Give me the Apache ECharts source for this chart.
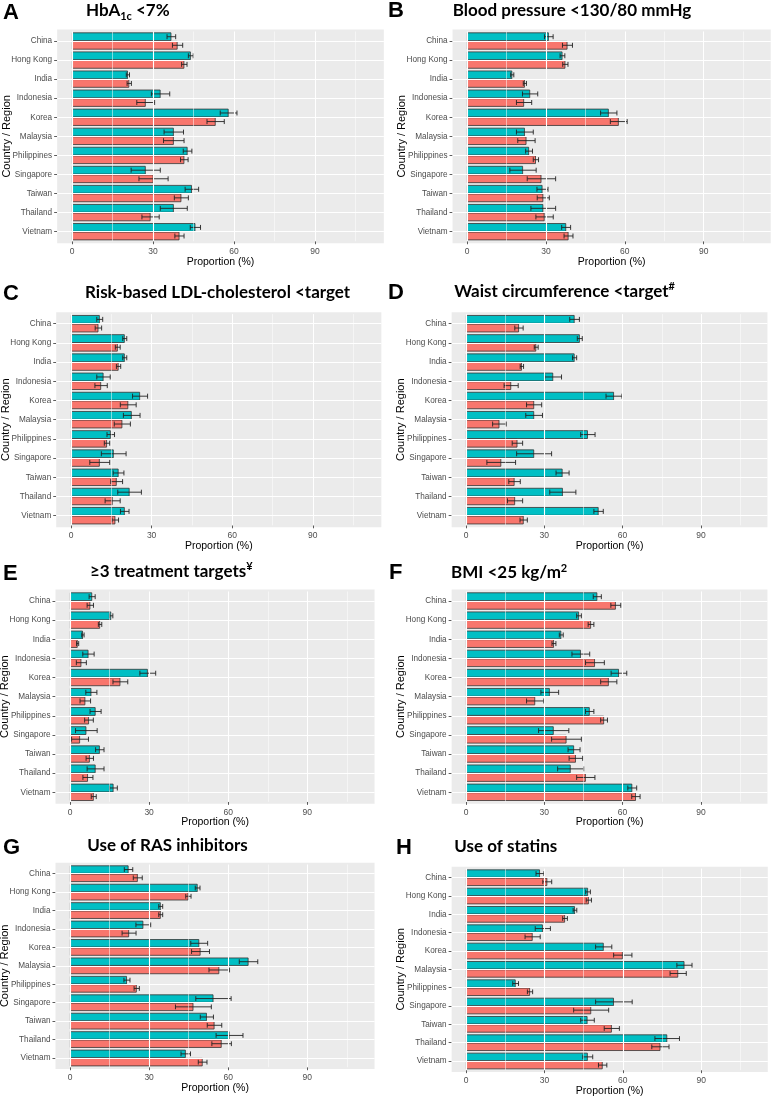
<!DOCTYPE html>
<html><head><meta charset="utf-8">
<script src="https://cdn.jsdelivr.net/npm/echarts@6/dist/echarts.min.js"></script>
<style>html,body{margin:0;padding:0;background:#fff}#c{width:773px;height:1098px}</style>
</head><body><div id="c"></div>
<script>
// ---------- DATA ----------
const countries = ['China','Hong Kong','India','Indonesia','Korea','Malaysia','Philippines','Singapore','Taiwan','Thailand','Vietnam'];
const xTicks = [0, 30, 60, 90];
const xMinorTicks = [15, 45, 75, 105];

// A: HbA1c <7%
const hba1cTeal    = [36.8, 44.0, 20.7, 32.8, 58.0, 37.7, 42.8, 27.3, 44.4, 37.7, 45.7];
const hba1cTealErr = [1.6, 0.9, 0.6, 3.4, 3.1, 3.6, 1.6, 5.4, 2.5, 5.0, 1.9];
const hba1cRed     = [39.1, 41.6, 21.2, 27.3, 53.2, 37.7, 41.6, 30.2, 40.5, 29.1, 39.8];
const hba1cRedErr  = [1.9, 1.0, 0.8, 3.3, 3.2, 3.8, 1.4, 5.4, 2.6, 3.2, 1.7];
// B: Blood pressure <130/80
const bpTeal    = [31.1, 36.3, 17.2, 24.0, 53.9, 22.0, 23.6, 21.3, 28.7, 29.0, 37.7];
const bpTealErr = [1.65, 0.9, 0.6, 2.9, 3.1, 3.2, 1.3, 5.0, 2.1, 4.7, 1.7];
const bpRed     = [38.2, 37.4, 22.0, 21.7, 57.7, 22.6, 26.2, 28.3, 29.0, 29.5, 38.6];
const bpRedErr  = [1.9, 1.0, 0.6, 2.9, 3.2, 3.3, 1.0, 5.4, 2.3, 3.3, 1.7];
// C: LDL-cholesterol
const ldlTeal    = [10.7, 20.0, 20.0, 12.1, 25.7, 22.6, 14.8, 15.9, 17.7, 21.8, 20.0];
const ldlTealErr = [1.1, 0.75, 0.75, 2.5, 2.8, 3.1, 1.4, 4.6, 2.0, 4.4, 1.6];
const ldlRed     = [10.2, 17.4, 17.7, 11.2, 21.3, 19.1, 13.4, 10.7, 17.0, 15.5, 16.5];
const ldlRedErr  = [1.2, 0.9, 0.8, 2.3, 2.95, 3.0, 1.0, 3.7, 2.2, 2.8, 1.2];
// D: Waist circumference
const waistTeal    = [41.6, 43.6, 41.6, 33.4, 56.7, 26.1, 46.7, 26.1, 37.0, 37.1, 50.8];
const waistTealErr = [1.85, 0.95, 0.8, 3.2, 3.05, 3.2, 2.75, 6.7, 2.5, 5.0, 1.8];
const waistRed     = [20.3, 26.9, 21.4, 17.3, 26.1, 12.8, 19.7, 13.5, 18.6, 18.8, 22.1];
const waistRedErr  = [1.6, 0.75, 0.65, 2.7, 2.9, 2.6, 2.0, 5.5, 2.2, 2.9, 1.4];
// E: >=3 treatment targets
const targetsTeal    = [8.4, 15.6, 4.9, 7.0, 29.5, 8.1, 9.7, 6.2, 11.3, 9.7, 16.5];
const targetsTealErr = [1.15, 0.65, 0.45, 2.15, 3.0, 2.1, 2.1, 4.1, 1.6, 3.2, 1.45];
const targetsRed     = [7.7, 11.4, 2.9, 4.3, 19.1, 5.8, 7.2, 3.8, 7.5, 6.8, 9.0];
const targetsRedErr  = [1.2, 0.65, 0.4, 1.9, 2.8, 2.0, 1.65, 3.2, 1.4, 1.9, 0.95];
// F: BMI <25
const bmiTeal    = [50.3, 43.3, 36.5, 44.0, 58.6, 32.1, 47.4, 33.6, 41.4, 40.1, 63.7];
const bmiTealErr = [1.55, 0.9, 0.75, 3.4, 3.0, 3.4, 1.6, 5.8, 2.3, 5.0, 1.7];
const bmiRed     = [57.4, 47.9, 33.7, 49.4, 54.7, 26.5, 52.9, 38.5, 42.1, 45.9, 65.1];
const bmiRedErr  = [1.9, 1.1, 0.75, 3.6, 3.1, 3.3, 1.3, 5.7, 2.6, 3.5, 1.6];
// G: RAS inhibitors
const rasTeal    = [22.2, 48.4, 34.4, 27.8, 49.0, 67.7, 21.6, 54.4, 51.9, 60.5, 43.9];
const rasTealErr = [1.6, 0.9, 0.75, 2.8, 3.2, 3.5, 1.15, 6.7, 2.5, 5.1, 1.8];
const rasRed     = [25.7, 44.9, 34.4, 22.4, 49.5, 56.6, 25.3, 46.8, 54.8, 57.5, 50.3];
const rasRedErr  = [1.7, 1.0, 0.75, 2.65, 3.4, 3.9, 1.0, 6.8, 2.75, 3.7, 1.65];
// H: statins
const statinTeal    = [28.3, 46.7, 41.7, 29.4, 52.7, 83.6, 19.0, 56.6, 46.5, 77.0, 46.6];
const statinTealErr = [1.5, 0.9, 0.7, 2.9, 3.1, 2.9, 1.1, 7.0, 2.6, 4.7, 1.9];
const statinRed     = [31.1, 47.0, 37.9, 25.5, 60.0, 81.2, 24.5, 47.9, 55.8, 74.4, 52.3];
const statinRedErr  = [1.7, 1.0, 0.9, 2.9, 3.5, 3.1, 1.0, 6.7, 2.9, 3.3, 1.6];

// ---------- LAYOUT ----------
const panels = [
  {letter:'A', lx:3,   ly:11.5,  tx:86,    ty:10,    title:[['HbA',0],['1c',1],[' <7%',0]], teal:hba1cTeal, tealErr:hba1cTealErr, red:hba1cRed, redErr:hba1cRedErr, zero:72,  ppu:2.70,  y0:41,    band:19.07},
  {letter:'B', lx:388, ly:10,    tx:452.7, ty:9.2,   title:[['Blood pressure <130/80 mmHg',0]], teal:bpTeal, tealErr:bpTealErr, red:bpRed, redErr:bpRedErr, zero:467, ppu:2.63,  y0:41,    band:19.07},
  {letter:'C', lx:3,   ly:292.5, tx:85,    ty:292,   title:[['Risk-based LDL-cholesterol <target',0]], teal:ldlTeal, tealErr:ldlTealErr, red:ldlRed, redErr:ldlRedErr, zero:71,  ppu:2.687, y0:323.7, band:19.2},
  {letter:'D', lx:388, ly:291.5, tx:454.3, ty:290.5, title:[['Waist circumference <target',0],['#',-1]], teal:waistTeal, tealErr:waistTealErr, red:waistRed, redErr:waistRedErr, zero:466, ppu:2.61,  y0:323.7, band:19.2},
  {letter:'E', lx:3,   ly:572.5, tx:90,    ty:570.3, title:[['\u22653 treatment targets',0],['\u00a5',-1]], teal:targetsTeal, tealErr:targetsTealErr, red:targetsRed, redErr:targetsRedErr, zero:70,  ppu:2.637, y0:601,   band:19.13},
  {letter:'F', lx:389, ly:571.5, tx:451,   ty:572,   title:[['BMI <25 kg/m',0],['2',-1]], teal:bmiTeal, tealErr:bmiTealErr, red:bmiRed, redErr:bmiRedErr, zero:466, ppu:2.61,  y0:601,   band:19.13},
  {letter:'G', lx:3,   ly:846.5, tx:87.3,  ty:845,   title:[['Use of RAS inhibitors',0]], teal:rasTeal, tealErr:rasTealErr, red:rasRed, redErr:rasRedErr, zero:70,  ppu:2.637, y0:873.7, band:18.43},
  {letter:'H', lx:396, ly:846.5, tx:454.3, ty:845.8, title:[['Use of statins',0]], teal:statinTeal, tealErr:statinTealErr, red:statinRed, redErr:statinRedErr, zero:466, ppu:2.613, y0:877.7, band:18.33}
];
const X_MIN = -5.5, X_MAX = 115.5;
const TEAL = '#00BFC4', SALMON = '#F8766D';

const chart = echarts.init(document.getElementById('c'), null, {renderer:'canvas'});
const grids = [], xAxes = [], yAxes = [], series = [], graphics = [];
const mctx = document.createElement('canvas').getContext('2d');
const TITLE_FONT = 17, SUB_FONT = 11;

panels.forEach((p, i) => {
  const left = p.zero - (0 - X_MIN) * p.ppu;
  const width = (X_MAX - X_MIN) * p.ppu;
  const top = p.y0 - p.band / 2;
  const height = countries.length * p.band;
  grids.push({left, top, width, height, containLabel:false, outerBoundsMode:'none', show:false});
  graphics.push({type:'rect', z:-10, silent:true,
    shape:{x:left, y:top - 0.1 * p.band, width, height:height + 0.2 * p.band},
    style:{fill:'#EBEBEB'}});
  xAxes.push({type:'value', gridIndex:i, min:X_MIN, max:X_MAX,
    axisLine:{show:false}, splitLine:{show:false},
    axisTick:{show:true, customValues:xTicks, length:3, lineStyle:{color:'#333', width:0.8}},
    axisLabel:{customValues:xTicks, color:'#4D4D4D', fontSize:8.5, margin:6, fontFamily:'Liberation Sans'},
    name:'Proportion (%)', nameLocation:'middle', nameGap:15, nameMoveOverlap:false,
    nameTextStyle:{fontSize:10.5, color:'#000', fontFamily:'Liberation Sans'}});
  yAxes.push({type:'category', gridIndex:i, data:countries, inverse:true,
    axisLine:{show:false, onZero:false}, splitLine:{show:false},
    axisTick:{show:true, alignWithLabel:true, interval:0, length:3, lineStyle:{color:'#333', width:0.8}},
    axisLabel:{interval:0, color:'#4D4D4D', fontSize:8.2, margin:5, fontFamily:'Liberation Sans'},
    name:'Country / Region', nameLocation:'middle', nameGap:45, nameMoveOverlap:false,
    nameTextStyle:{fontSize:11, color:'#000', fontFamily:'Liberation Sans'}});
  const ml = [];
  xTicks.forEach(v => ml.push({xAxis:v, lineStyle:{color:'#fff', width:1.1, type:'solid'}}));
  xMinorTicks.forEach(v => ml.push({xAxis:v, lineStyle:{color:'#fff', width:0.5, type:'solid'}}));
  countries.forEach((c, j) => ml.push({yAxis:j, lineStyle:{color:'#fff', width:1.1, type:'solid'}}));
  series.push({type:'line', xAxisIndex:i, yAxisIndex:i, data:[], z:1, silent:true,
    markLine:{symbol:['none','none'], silent:true, animation:false, label:{show:false}, data:ml}});
  series.push({type:'bar', xAxisIndex:i, yAxisIndex:i, data:p.teal, z:3,
    barCategoryGap:'10%', barGap:'0%',
    itemStyle:{color:TEAL, borderColor:'#333', borderWidth:0.8}});
  series.push({type:'bar', xAxisIndex:i, yAxisIndex:i, data:p.red, z:3,
    barCategoryGap:'10%', barGap:'0%',
    itemStyle:{color:SALMON, borderColor:'#333', borderWidth:0.8}});
  const errData = [];
  countries.forEach((c, j) => {
    errData.push([j, p.teal[j], p.tealErr[j], 0]);
    errData.push([j, p.red[j], p.redErr[j], 1]);
  });
  series.push({type:'custom', xAxisIndex:i, yAxisIndex:i, z:4, silent:true,
    encode:{x:1, y:0}, data:errData,
    renderItem:(params, api) => {
      const j = api.value(0), v = api.value(1), e = api.value(2), g = api.value(3);
      const bandPx = api.size([0, 1])[1];
      const c = api.coord([v, j]);
      const yc = c[1] + (g === 0 ? -1 : 1) * bandPx * 0.225;
      const x1 = api.coord([v - e, j])[0], x2 = api.coord([v + e, j])[0];
      const h = bandPx * 0.13;
      const st = {stroke:'#222', lineWidth:0.9};
      return {type:'group', children:[
        {type:'line', shape:{x1:x1, y1:yc, x2:x2, y2:yc}, style:st},
        {type:'line', shape:{x1:x1, y1:yc - h, x2:x1, y2:yc + h}, style:st},
        {type:'line', shape:{x1:x2, y1:yc - h, x2:x2, y2:yc + h}, style:st}
      ]};
    }});
  graphics.push({type:'text', x:p.lx, y:p.ly + 1, z:10,
    style:{text:p.letter, font:'bold 22px "Liberation Sans"', fill:'#000', align:'left', verticalAlign:'middle'}});
  let x = p.tx;
  p.title.forEach(([t, mode]) => {
    const size = mode === 0 ? TITLE_FONT : SUB_FONT;
    const font = 'bold ' + size + 'px Lato';
    mctx.font = font;
    const w = mctx.measureText(t).width;
    const dy = mode === 1 ? 5 : (mode === -1 ? -5 : 0);
    graphics.push({type:'text', x:x, y:p.ty + 1 + dy, z:10,
      style:{text:t, font:font, fill:'#000', align:'left', verticalAlign:'middle'}});
    x += w;
  });
});

chart.setOption({
  animation:false,
  backgroundColor:'#fff',
  textStyle:{fontFamily:'Liberation Sans'},
  grid:grids, xAxis:xAxes, yAxis:yAxes, series:series,
  graphic:{elements:graphics}
});
</script></body></html>
